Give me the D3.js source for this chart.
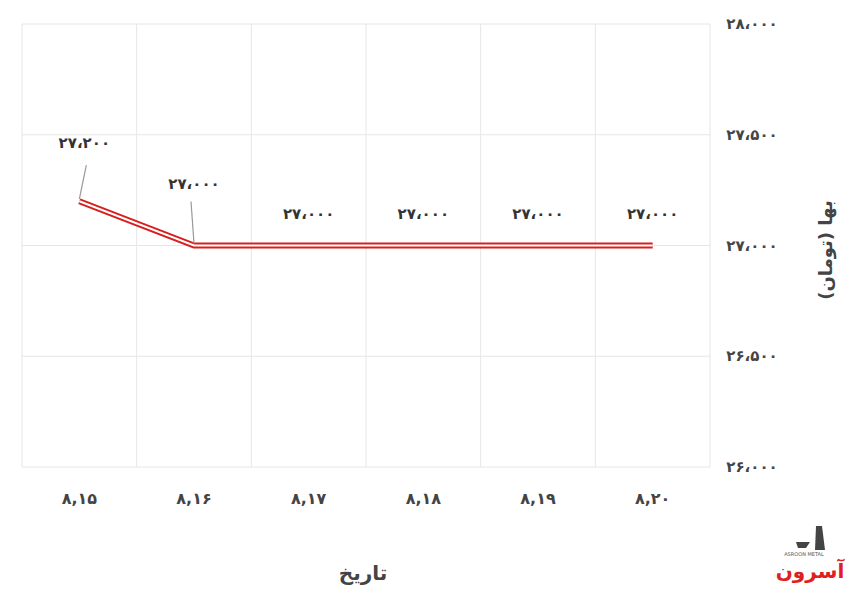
<!DOCTYPE html>
<html><head><meta charset="utf-8">
<script src="https://cdn.jsdelivr.net/npm/d3@7"></script>
<style>body{margin:0;background:#fff;font-family:"DejaVu Sans",sans-serif}</style>
</head><body><div id="chart"></div>
<script>
const dates = ["۸,۱۵", "۸,۱۶", "۸,۱۷", "۸,۱۸", "۸,۱۹", "۸,۲۰"];
const prices = [27200, 27000, 27000, 27000, 27000, 27000];
const yTicks = [26000, 26500, 27000, 27500, 28000];
const labelOffsets = [[0, -58], [0, -62], [0, -32], [0, -32], [0, -32], [0, -32]];

const fa = n => String(n).replace(/\d/g, d => "۰۱۲۳۴۵۶۷۸۹"[d]);
const faNum = n => fa(d3.format(",")(n)).replace(/,/g, "،");

const W = 860, H = 596, L = 22, R = 710, T = 24, B = 467;
const svg = d3.select("#chart").append("svg").attr("width", W).attr("height", H);

const x = d3.scaleBand().domain(dates).range([L, R]);
const y = d3.scaleLinear().domain([26000, 28000]).range([B, T]);

// grid
svg.append("g").selectAll("line").data(yTicks).join("line")
  .attr("x1", L).attr("x2", R).attr("y1", d => y(d)).attr("y2", d => y(d))
  .attr("stroke", "#e6e6e6");
svg.append("g").selectAll("line").data(d3.range(dates.length + 1)).join("line")
  .attr("x1", i => L + i * x.bandwidth()).attr("x2", i => L + i * x.bandwidth())
  .attr("y1", T).attr("y2", B).attr("stroke", "#e6e6e6");

// right axis labels
svg.append("g").selectAll("text").data(yTicks).join("text")
  .attr("x", 752).attr("y", d => y(d) + 5).attr("text-anchor", "middle")
  .attr("font-size", 15).attr("font-weight", "bold").attr("fill", "#444")
  .text(d => faNum(d));

// x labels
svg.append("g").selectAll("text").data(dates).join("text")
  .attr("x", d => x(d) + x.bandwidth() / 2).attr("y", 504).attr("text-anchor", "middle")
  .attr("font-size", 16).attr("font-weight", "bold").attr("fill", "#444")
  .text(d => d);

svg.append("text").attr("x", 363).attr("y", 580).attr("text-anchor", "middle")
  .attr("font-size", 20).attr("font-weight", "bold").attr("fill", "#444").text("تاریخ");
svg.append("text").attr("transform", "translate(832,250) rotate(-90)")
  .attr("text-anchor", "middle").attr("font-size", 18).attr("font-weight", "bold")
  .attr("fill", "#444").text("بها (تومان)");

// line (double red with white core)
const line = d3.line().x((d, i) => x(dates[i]) + x.bandwidth() / 2).y(d => y(d));
svg.append("path").datum(prices).attr("d", line).attr("fill", "none")
  .attr("stroke", "#d81e1e").attr("stroke-width", 6);
svg.append("path").datum(prices).attr("d", line).attr("fill", "none")
  .attr("stroke", "#fff").attr("stroke-width", 2);

// leader lines for the first two labels
prices.forEach((p, i) => {
  const cx = x(dates[i]) + x.bandwidth() / 2, cy = y(p);
  if (i < 2) {
    svg.append("line").attr("x1", cx).attr("y1", cy - 2)
      .attr("x2", cx + (i === 0 ? 7 : -3)).attr("y2", cy - (i === 0 ? 36 : 44))
      .attr("stroke", "#999").attr("stroke-width", 1.2);
  }
  svg.append("text").attr("x", cx + (i === 0 ? 5 : 0)).attr("y", cy + labelOffsets[i][1] + 5)
    .attr("text-anchor", "middle").attr("font-size", 15).attr("font-weight", "bold")
    .attr("fill", "#333").text(faNum(p));
});

// logo
const logo = svg.append("g").attr("transform", "translate(810,578)");
logo.append("text").attr("text-anchor", "middle").attr("font-size", 20).attr("font-weight", "bold")
  .attr("fill", "#e02020").text("آسرون");
logo.append("text").attr("x", -6).attr("y", -22).attr("text-anchor", "middle").attr("font-size", 5)
  .attr("fill", "#555").text("ASROON METAL");
logo.append("path").attr("d", "M-14,-36 h14 l-4,6 h-8 z M6,-52 l6,0 l3,24 h-10 z").attr("fill", "#444");
</script></body></html>
